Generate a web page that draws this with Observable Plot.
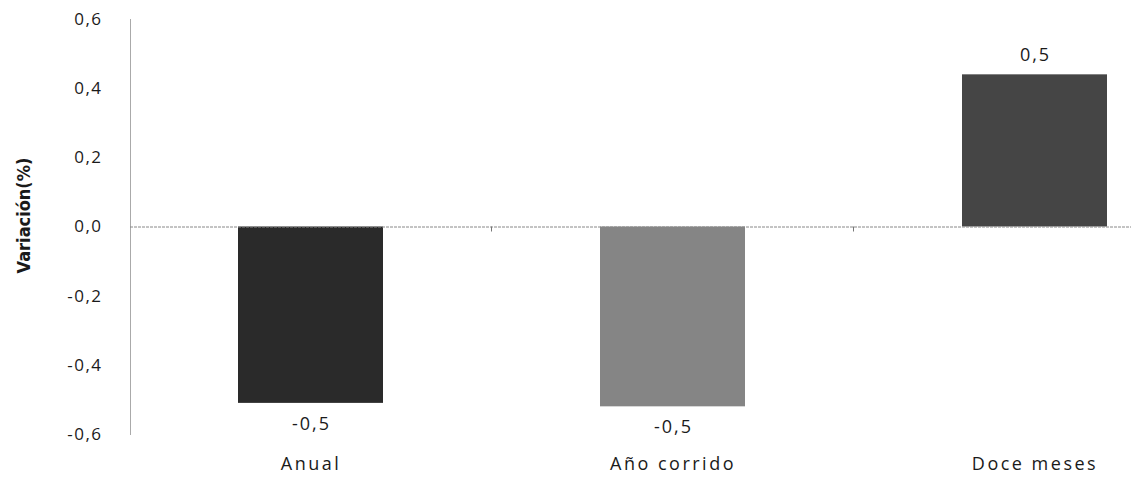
<!DOCTYPE html>
<html>
<head>
<meta charset="utf-8">
<script src="https://cdn.jsdelivr.net/npm/d3@7"></script>
<script src="https://cdn.jsdelivr.net/npm/@observablehq/plot@0.6"></script>
<style>
  html, body { margin: 0; padding: 0; background: #fff; }
  #chart { width: 1131px; height: 480px; }
</style>
</head>
<body>
<div id="chart"></div>
<script>
const categories = ["Anual", "Año corrido", "Doce meses"];
const values = [-0.51, -0.52, 0.44];
const valueLabels = ["-0,5", "-0,5", "0,5"];
const barColors = ["#2a2a2a", "#858585", "#454545"];
const yTicks = [-0.6, -0.4, -0.2, 0, 0.2, 0.4, 0.6];
const yLabel = "Variación(%)";

const data = categories.map((c, i) => ({cat: c, v: values[i], label: valueLabels[i], color: barColors[i]}));
const fmt = d => d.toFixed(1).replace(".", ",");
const NS = "http://www.w3.org/2000/svg";

// separators on the zero line, value labels and the rotated y label, all placed through the scales
function annotations(index, scales, values, dimensions) {
  const g = document.createElementNS(NS, "g");
  const bw = typeof scales.x.bandwidth === "function" ? scales.x.bandwidth() : scales.x.bandwidth;
  const y0 = scales.y(0);
  for (let i = 0; i < categories.length - 1; i++) {
    const a = scales.x(categories[i]) + bw;
    const b = scales.x(categories[i + 1]);
    const xm = (a + b) / 2;
    const l = document.createElementNS(NS, "line");
    l.setAttribute("x1", xm); l.setAttribute("x2", xm);
    l.setAttribute("y1", y0); l.setAttribute("y2", y0 + 5);
    l.setAttribute("stroke", "#777");
    g.appendChild(l);
  }
  data.forEach(d => {
    const t = document.createElementNS(NS, "text");
    t.setAttribute("x", scales.x(d.cat) + bw / 2 + 1);
    t.setAttribute("y", scales.y(d.v) + (d.v < 0 ? 22 : -18));
    t.setAttribute("text-anchor", "middle");
    t.setAttribute("dominant-baseline", "middle");
    t.setAttribute("font-size", 18);
    t.setAttribute("letter-spacing", "2px");
    t.setAttribute("fill", "#1a1a1a");
    t.textContent = d.label;
    g.appendChild(t);
  });
  const yc = (scales.y(yTicks[0]) + scales.y(yTicks[yTicks.length - 1])) / 2;
  const lab = document.createElementNS(NS, "text");
  lab.setAttribute("transform", `translate(${dimensions.marginLeft - 105},${yc - 11}) rotate(-90)`);
  lab.setAttribute("text-anchor", "middle");
  lab.setAttribute("dominant-baseline", "middle");
  lab.setAttribute("font-size", 18);
  lab.setAttribute("font-weight", "bold");
  lab.setAttribute("font-stretch", "condensed");
  lab.setAttribute("font-family", "'DejaVu Sans Condensed', 'DejaVu Sans', sans-serif");
  lab.setAttribute("fill", "#1a1a1a");
  lab.textContent = yLabel;
  g.appendChild(lab);
  return g;
}

const chart = Plot.plot({
  width: 1131,
  height: 480,
  marginLeft: 130,
  marginRight: 0,
  marginTop: 19,
  marginBottom: 46,
  style: {fontFamily: "'Open Sans', Lato, sans-serif", fontSize: "17px", color: "#1a1a1a", background: "#fff"},
  x: {domain: categories, paddingInner: 0.6, paddingOuter: 0.18, align: 0.82, label: null},
  y: {domain: [-0.6, 0.6], label: null},
  marks: [
    Plot.frame({anchor: "left", stroke: "#aaa", strokeDasharray: "2,1"}),
    Plot.barY(data, {x: "cat", y: "v", fill: "color"}),
    Plot.ruleY([0], {stroke: "#888", strokeDasharray: "3,1"}),
    annotations,
    Plot.axisY({ticks: yTicks, tickFormat: fmt, tickSize: 0, tickPadding: 28, fontSize: 17, label: null,
      render(index, scales, values, dimensions, context, next) {
        const g = next(index, scales, values, dimensions, context);
        g.setAttribute("letter-spacing", "1.5px");
        return g;
      }}),
    Plot.axisX({tickSize: 0, tickPadding: 23, fontSize: 18, label: null,
      render(index, scales, values, dimensions, context, next) {
        const g = next(index, scales, values, dimensions, context);
        g.setAttribute("letter-spacing", "2.5px");
        return g;
      }})
  ]
});
document.getElementById("chart").appendChild(chart);
</script>
</body>
</html>
